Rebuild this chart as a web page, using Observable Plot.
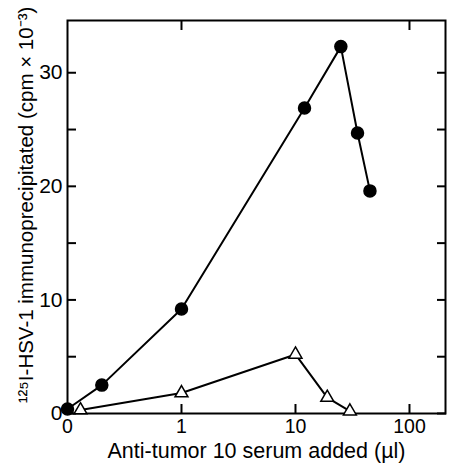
<!DOCTYPE html>
<html><head><meta charset="utf-8">
<script src="https://cdn.jsdelivr.net/npm/d3@7"></script>
<script src="https://cdn.jsdelivr.net/npm/@observablehq/plot@0.6"></script>
<style>body{margin:0;background:#fff}</style>
</head><body><div id="chart"></div>
<script>
const circleDose = [0, 0.2, 1, 12, 25, 35, 45];
const circleCpm = [0.4, 2.5, 9.2, 26.9, 32.3, 24.7, 19.6];
const triDose = [0, 1, 10, 19, 30];
const triCpm = [0.3, 1.8, 5.2, 1.4, 0.2];
const xTicks = [0, 1, 10, 100];
const xTickLabels = ["0", "1", "10", "100"];
const yTicks = [0, 10, 20, 30];
const yMinor = [0, 5, 10, 15, 20, 25, 30];

const ZERO = 0.1; // position where "0" is drawn on the log axis
const pos = d => d === 0 ? ZERO : d;
const labelOf = new Map(xTicks.map((d, i) => [pos(d), xTickLabels[i]]));
const circles = circleDose.map((d, i) => ({x: pos(d), y: circleCpm[i]}));
const tris = triDose.map((d, i) => ({x: d === 0 ? 0.13 : d, y: triCpm[i]}));

const font = "'Liberation Sans', Arial, sans-serif";
const chart = Plot.plot({
  width: 450, height: 466,
  marginLeft: 67, marginRight: 5, marginTop: 20, marginBottom: 53,
  style: {fontFamily: font, fontSize: "20px", color: "#000", background: "#fff"},
  x: {type: "log", domain: [0.1, 207]},
  y: {domain: [0, 34.6]},
  marks: [
    Plot.frame({stroke: "#000", strokeWidth: 2}),
    Plot.axisX(xTicks.map(pos), {tickSize: 0, tickPadding: 6, tickFormat: d => labelOf.get(d), fontSize: 19.5,
      label: null}),
    Plot.text(["Anti-tumor 10 serum added (µl)"], {frameAnchor: "bottom", dy: 44, fontSize: 21.5, textAnchor: "middle"}),
    Plot.axisX([1, 10, 100], {anchor: "bottom", tickSize: -9, strokeWidth: 2, text: null, label: null}),
    Plot.axisX([1, 100], {anchor: "top", tickSize: -9, strokeWidth: 2, text: null, label: null}),
    Plot.axisY(yTicks, {tickSize: 0, tickPadding: 5, fontSize: 21, label: null}),
    Plot.text(["¹²⁵I-HSV-1 immunoprecipitated (cpm × 10⁻³)"], {frameAnchor: "left", dx: -41, rotate: -90, fontSize: 20.5, textAnchor: "middle", dy: -12}),
    Plot.axisY(yMinor, {anchor: "left", tickSize: -9, strokeWidth: 2, text: null, label: null}),
    Plot.axisY(yMinor, {anchor: "right", tickSize: -9, strokeWidth: 2, text: null, label: null}),
    Plot.line(circles, {x: "x", y: "y", stroke: "#000", strokeWidth: 2}),
    Plot.line(tris, {x: "x", y: "y", stroke: "#000", strokeWidth: 2}),
    Plot.dot(circles, {x: "x", y: "y", r: 6, fill: "#000", stroke: "#000"}),
    Plot.dot(tris, {x: "x", y: "y", r: 4.8, symbol: "triangle", fill: "#fff", stroke: "#000", strokeWidth: 1.5})
  ]
});
document.getElementById("chart").append(chart);
</script></body></html>
